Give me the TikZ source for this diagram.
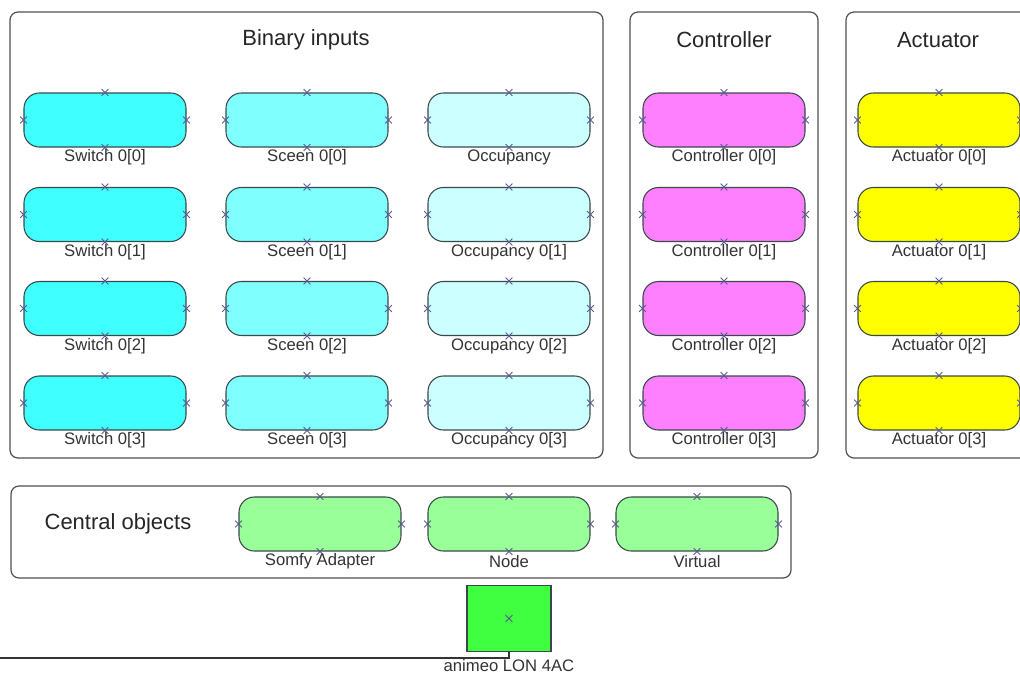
\documentclass[tikz,border=0pt]{standalone}
\usepackage{fontspec}
\setmainfont{Liberation Sans}
\usetikzlibrary{shapes.misc}
\definecolor{swc}{HTML}{40FFFF}
\definecolor{scc}{HTML}{80FFFF}
\definecolor{occ}{HTML}{CCFFFF}
\definecolor{ctc}{HTML}{FF80FF}
\definecolor{acc}{HTML}{FFFF00}
\definecolor{cec}{HTML}{99FF99}
\definecolor{anc}{HTML}{40FF40}
\definecolor{framec}{HTML}{505050}
\definecolor{nodebc}{HTML}{3A4A4A}
\definecolor{mkc}{HTML}{5A5A90}
\definecolor{txtc}{HTML}{333333}
\tikzset{
  groupbox/.style={draw=framec, line width=0.9pt, rounded corners=6pt},
  objbox/.style={draw=nodebc, line width=0.8pt, rounded corners=11.5pt, minimum width=121.5pt, minimum height=40.5pt, inner sep=0pt},
  lbl/.style={font=\fontsize{12.5}{14}\selectfont, text=txtc, inner sep=0pt},
  grouptitle/.style={font=\fontsize{16.5}{19}\selectfont, text=black!85, inner sep=0pt},
  xmk/.style={cross out, draw=mkc, line width=0.6pt, minimum size=4.5pt, inner sep=0pt},
  wire/.style={draw=black!80, line width=0.8pt}
}
\newcommand\objnode[5]{%
  \node[objbox, fill=#4] (#1) at (#2,#3) {};
  \node[xmk] (#1-xn) at (#1.north) {};
  \node[xmk] (#1-xs) at (#1.south) {};
  \node[xmk] (#1-xe) at (#1.east) {};
  \node[xmk] (#1-xw) at (#1.west) {};
  \node[lbl] (#1-l) at (#2,{#3+37.5}) {#5};
}
\begin{document}
\begin{tikzpicture}[x=0.75pt,y=-0.75pt]
\useasboundingbox (0,0) rectangle (1020,675);
% groups
\draw[groupbox] (10,12) rectangle (603,458);
\draw[groupbox] (630,12) rectangle (818,458);
\draw[groupbox] (846,12) rectangle (1040,458);
\draw[groupbox] (11,486) rectangle (791,578);
\node[grouptitle] (tbin) at (306,40) {Binary inputs};
\node[grouptitle] (tctl) at (724,40) {Controller};
\node[grouptitle] (tact) at (938,40) {Actuator};
\node[grouptitle] (tcen) at (118,524) {Central objects};
% binary inputs
\objnode{sw0}{105}{120}{swc}{Switch 0[0]}
\objnode{sw1}{105}{214.5}{swc}{Switch 0[1]}
\objnode{sw2}{105}{308.5}{swc}{Switch 0[2]}
\objnode{sw3}{105}{403}{swc}{Switch 0[3]}
\objnode{sc0}{307}{120}{scc}{Sceen 0[0]}
\objnode{sc1}{307}{214.5}{scc}{Sceen 0[1]}
\objnode{sc2}{307}{308.5}{scc}{Sceen 0[2]}
\objnode{sc3}{307}{403}{scc}{Sceen 0[3]}
\objnode{oc0}{509}{120}{occ}{Occupancy}
\objnode{oc1}{509}{214.5}{occ}{Occupancy 0[1]}
\objnode{oc2}{509}{308.5}{occ}{Occupancy 0[2]}
\objnode{oc3}{509}{403}{occ}{Occupancy 0[3]}
% controller
\objnode{ct0}{724}{120}{ctc}{Controller 0[0]}
\objnode{ct1}{724}{214.5}{ctc}{Controller 0[1]}
\objnode{ct2}{724}{308.5}{ctc}{Controller 0[2]}
\objnode{ct3}{724}{403}{ctc}{Controller 0[3]}
% actuator
\objnode{ac0}{939}{120}{acc}{Actuator 0[0]}
\objnode{ac1}{939}{214.5}{acc}{Actuator 0[1]}
\objnode{ac2}{939}{308.5}{acc}{Actuator 0[2]}
\objnode{ac3}{939}{403}{acc}{Actuator 0[3]}
% central objects
\objnode{ce0}{320}{524}{cec}{Somfy Adapter}
\objnode{ce1}{509}{524}{cec}{Node}
\objnode{ce2}{697}{524}{cec}{Virtual}
% device
\node[draw=nodebc, line width=0.8pt, fill=anc, minimum width=63pt, minimum height=50pt, inner sep=0pt] (anim) at (509,618.5) {};
\node[xmk] (anim-x) at (anim.center) {};
\node[lbl] (anim-l) at (509,666) {animeo LON 4AC};
\coordinate (wend) at (0,658);
\draw[wire] (anim.south) |- (wend);
\end{tikzpicture}
\end{document}
